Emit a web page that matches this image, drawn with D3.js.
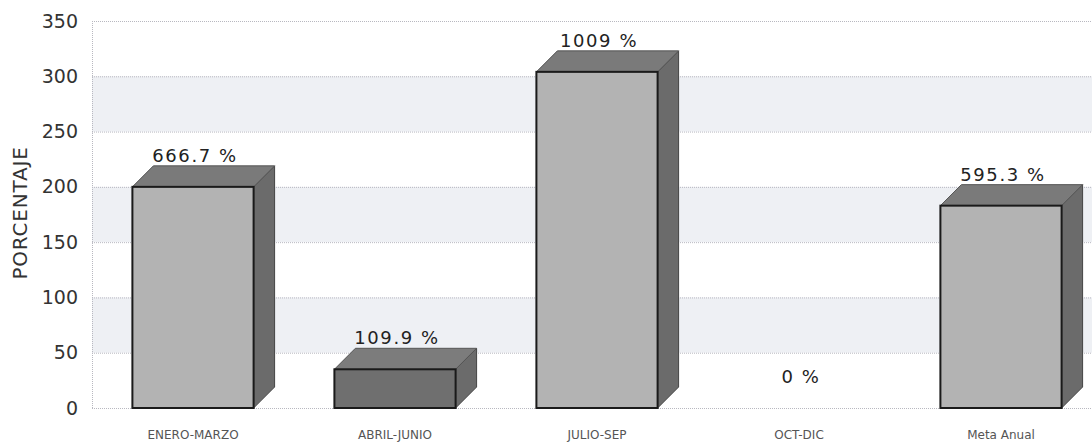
<!DOCTYPE html>
<html><head><meta charset="utf-8">
<script src="https://cdn.jsdelivr.net/npm/d3@7"></script>
<style>body{margin:0;background:#fff}svg{display:block}</style>
</head><body>
<svg id="c" width="1092" height="443"></svg>
<script>
const categories = ["ENERO-MARZO","ABRIL-JUNIO","JULIO-SEP","OCT-DIC","Meta Anual"];
const values = [200, 35, 304, 0, 183];
const valueLabels = ["666.7 %","109.9 %","1009 %","0 %","595.3 %"];
const yTicks = [0,50,100,150,200,250,300,350];
const yTitle = "PORCENTAJE";
const darkBar = [false,true,false,false,false];

const svg = d3.select("#c");
const pLeft = 92, pRight = 1102, pTop = 21, pBottom = 408, depth = 21;
const x = d3.scaleBand().domain(categories).range([pLeft,pRight]).paddingInner(0.4).paddingOuter(0.2);
const y = d3.scaleLinear().domain([0,350]).range([pBottom,pTop]);

// bands
const bands = [[250,300],[150,200],[50,100]];
svg.selectAll("rect.band").data(bands).enter().append("rect")
  .attr("x",pLeft).attr("width",pRight-pLeft)
  .attr("y",d=>y(d[1])).attr("height",d=>y(d[0])-y(d[1]))
  .attr("fill","#eef0f4");

// grid lines
svg.selectAll("line.grid").data(yTicks).enter().append("line")
  .attr("x1",pLeft).attr("x2",pRight).attr("y1",d=>y(d)+0.5).attr("y2",d=>y(d)+0.5)
  .attr("stroke","#b8b8c0").attr("stroke-width",1).attr("stroke-dasharray","1,1");
svg.append("line").attr("x1",pLeft+0.5).attr("x2",pLeft+0.5).attr("y1",pTop).attr("y2",pBottom)
  .attr("stroke","#b8b8c0").attr("stroke-dasharray","1,1");

// y axis
const yAxis = d3.axisLeft(y).tickValues(yTicks).tickSize(0).tickPadding(14);
const ga = svg.append("g").attr("transform",`translate(${pLeft},0)`).call(yAxis);
ga.select(".domain").remove();
ga.selectAll("text").attr("font-family","DejaVu Sans").attr("font-size",19).attr("fill","#333");

svg.append("text").attr("transform","translate(27,213) rotate(-90)")
  .attr("text-anchor","middle").attr("font-family","DejaVu Sans").attr("font-size",20)
  .attr("letter-spacing",0.8).attr("fill","#333").text(yTitle);

// x axis labels
const xAxis = d3.axisBottom(x).tickSize(0).tickPadding(22);
const gx = svg.append("g").attr("transform",`translate(0,${pBottom})`).call(xAxis);
gx.select(".domain").remove();
gx.selectAll("text").attr("font-family","DejaVu Sans").attr("font-size",12).attr("fill","#555");

// bars
const data = categories.map((c,i)=>({c,v:values[i],l:valueLabels[i],dark:darkBar[i]}));
const g = svg.selectAll("g.bar").data(data).enter().append("g");
g.filter(d=>d.v>0).each(function(d){
  const s = d3.select(this);
  const x0 = x(d.c), x1 = x0 + x.bandwidth(), yt = y(d.v), yb = y(0);
  s.append("polygon")
    .attr("points",[[x1,yt],[x1+depth,yt-depth],[x1+depth,yb-depth],[x1,yb]].join(" "))
    .attr("fill","#6b6b6b").attr("stroke","#444").attr("stroke-width",1);
  s.append("polygon")
    .attr("points",[[x0,yt],[x0+depth,yt-depth],[x1+depth,yt-depth],[x1,yt]].join(" "))
    .attr("fill",d.dark?"#7c7c7c":"#7a7a7a").attr("stroke","#555").attr("stroke-width",1);
  s.append("rect").attr("x",x0).attr("y",yt).attr("width",x.bandwidth()).attr("height",yb-yt)
    .attr("fill",d.dark?"#6f6f6f":"#b3b3b3").attr("stroke","#1a1a1a").attr("stroke-width",2);
});
g.append("text")
  .attr("x",d=>x(d.c)+x.bandwidth()/2+2)
  .attr("y",d=>y(d.v)-depth-4)
  .attr("text-anchor","middle").attr("font-family","DejaVu Sans").attr("font-size",18)
  .attr("letter-spacing",1.6).attr("fill","#222").text(d=>d.l);
</script>
</body></html>
